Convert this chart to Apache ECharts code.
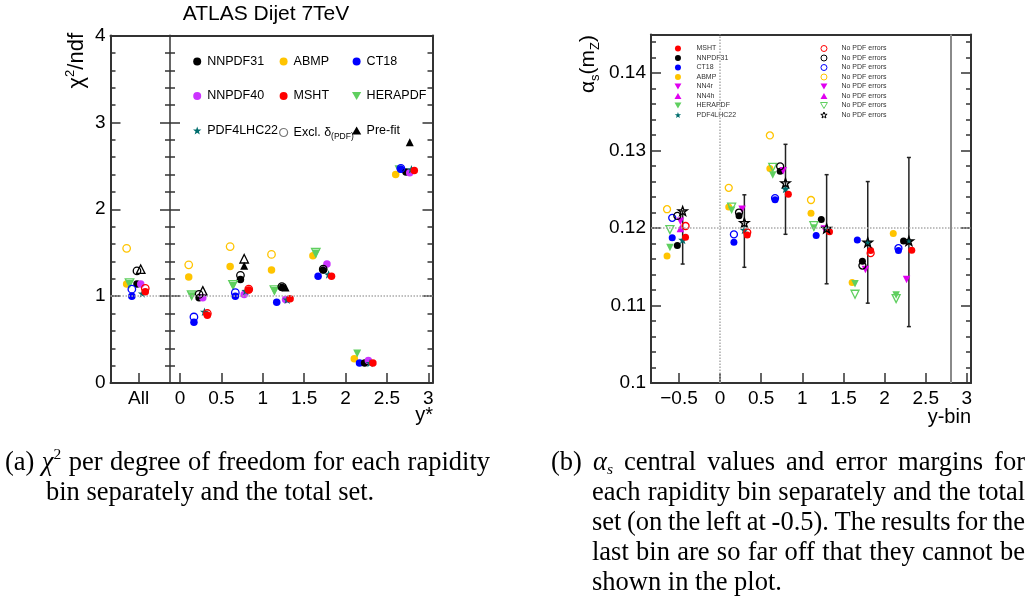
<!DOCTYPE html>
<html>
<head>
<meta charset="utf-8">
<title>ATLAS Dijet 7TeV – chi2/ndf and alpha_s per rapidity bin</title>
<script src="https://cdn.jsdelivr.net/npm/echarts@6/dist/echarts.min.js"></script>
<style>
  html, body { margin: 0; padding: 0; background: #ffffff; }
  #chart { width: 1029px; height: 608px; }
</style>
</head>
<body>
<div id="chart"></div>
<script>
// ---------------- data: chi2/ndf per rapidity bin (first entry = all bins combined) ----------------
const chiBins = [-0.5, 0.25, 0.75, 1.25, 1.75, 2.25, 2.75];
const chiTicks = [-0.5, 0, 0.5, 1, 1.5, 2, 2.5, 3];
const chiRef = 1;

const chiNNPDF31   = [1.14, 0.98, 1.19, 1.10, 1.30, 0.23, 2.43];
const chiABMP      = [1.14, 1.22, 1.34, 1.30, 1.465, 0.28, 2.40];
const chiCT18      = [1.00, 0.70, 1.00, 0.93, 1.23, 0.23, 2.46];
const chiNNPDF40   = [1.14, 0.98, 1.02, 0.96, 1.37, 0.26, 2.42];
const chiMSHT      = [1.05, 0.78, 1.07, 0.97, 1.23, 0.23, 2.445];
const chiHERAPDF   = [1.14, 1.00, 1.12, 1.06, 1.49, 0.34, 2.46];
const chiPDF4LHC22 = [1.03, 0.82, 1.06, 0.96, 1.25, 0.23, 2.46];
const chiPrefit    = [null, null, 1.35, 1.10, null, null, 2.77];

// chi2/ndf with the PDF uncertainty removed from the covariance
const exclNNPDF31  = [1.29, 1.02, 1.24, 1.11, 1.31, null, null];
const exclABMP     = [1.55, 1.36, 1.57, 1.48, null, null, null];
const exclCT18     = [1.08, 0.76, 1.04, null, null, null, 2.47];
const exclMSHT     = [1.09, 0.80, 1.08, null, null, null, null];
const exclHERAPDF  = [1.15, 1.01, 1.13, 1.07, 1.50, null, null];
const exclPrefit   = [1.31, 1.06, 1.43, null, null, null, null];

// ---------------- data: fitted alpha_s(mZ) per rapidity bin (first entry = total set) ----------------
const asBins = [-0.5, 0.25, 0.75, 1.25, 1.75, 2.25];
const asTicks = [-0.5, 0, 0.5, 1, 1.5, 2, 2.5, 3];
const asYTicks = [0.1, 0.11, 0.12, 0.13, 0.14];
const asRef = 0.118;
const asLastBinEdge = 2.8;

const asMSHT      = [0.11881, 0.11912, 0.12436, 0.11954, 0.11711, 0.11715];
const asNNPDF31   = [0.11775, 0.12158, 0.12733, 0.12111, 0.11571, 0.11835];
const asCT18      = [0.11877, 0.11817, 0.12366, 0.11903, 0.11848, 0.11711];
const asABMP      = [0.11639, 0.12273, 0.12771, 0.12193, 0.11299, 0.11932];
const asNN4r      = [0.12090, 0.12244, 0.12742, 0.11987, 0.11465, 0.11337];
const asNN4h      = [0.11996, null, null, null, null, null];
const asHERAPDF   = [0.11750, 0.12231, 0.12686, 0.12000, 0.11281, 0.11137];
const asPDF4LHC22 = [0.11848, 0.11976, 0.12507, 0.11996, 0.11817, 0.11835];
const asErrLow    = [0.11536, 0.11494, 0.11920, 0.11281, 0.11031, 0.10728];
const asErrHigh   = [0.12222, 0.12430, 0.13082, 0.12690, 0.12601, 0.12912];

// alpha_s fitted without PDF errors
const nopdfMSHT      = [0.12027, 0.11945, null, null, 0.11677, null];
const nopdfNNPDF31   = [0.12158, 0.12201, 0.12797, null, 0.11516, null];
const nopdfCT18      = [0.12133, 0.11919, 0.12388, null, null, 0.11741];
const nopdfABMP      = [0.12244, 0.12520, 0.13197, 0.12363, null, null];
const nopdfNN4r      = [null, null, null, null, null, null];
const nopdfNN4h      = [null, null, null, null, null, null];
const nopdfHERAPDF   = [0.11980, 0.12270, 0.12784, 0.12031, 0.11146, 0.11089];
const nopdfPDF4LHC22 = [0.12222, 0.12070, 0.12584, 0.11996, 0.11817, 0.11835];

// ---------------- caption text ----------------
const captionA = [
  '(a) {i|χ}{p|2} per degree of freedom for each rapidity',
  'bin separately and the total set.'
];
const captionB = [
  '(b) {i|α}{s|s} central values and error margins for',
  'each rapidity bin separately and the total',
  'set (on the left at -0.5). The results for the',
  'last bin are so far off that they cannot be',
  'shown in the plot.'
];

// ---------------- styling ----------------
const SANS = '"Liberation Sans", Arial, Helvetica, sans-serif';
const SERIF = '"Liberation Serif", "Times New Roman", serif';
const COLOR = {
  NNPDF31: '#000000', ABMP: '#ffc400', CT18: '#0000ff', NNPDF40: '#cc33ff',
  MSHT: '#ff0000', HERAPDF: '#5fcf5f', PDF4LHC22: '#006d6d', NN4: '#e000f0', PREFIT: '#000000'
};
// horizontal shift of each PDF inside a bin so the markers do not sit on top of each other
const SHIFT = {
  ABMP: -0.145, HERAPDF: -0.11, CT18: -0.082, NNPDF31: -0.02, PREFIT: 0.025,
  NNPDF40: 0.025, NN4: 0.017, PDF4LHC22: 0.045, MSHT: 0.08
};
const STAR = 'path://M0,-10L2.35,-3.24L9.51,-3.09L3.8,1.24L5.88,8.09L0,4L-5.88,8.09L-3.8,1.24L-9.51,-3.09L-2.35,-3.24Z';
const TRI_DOWN = 'path://M0,0L10,0L5,8.66Z';
const TRI_UP = 'path://M5,0L10,8.66L0,8.66Z';
const X_MIN = -0.84, X_MAX = 3.05;
const FRAME = { color: '#333333', width: 2 };
const TICK = { color: '#333333', width: 1.5 };

function points(bins, values, shift) {
  const out = [];
  values.forEach((v, i) => { if (v !== null) out.push([bins[i] + shift, v]); });
  return out;
}

function scatter(name, grid, data, symbol, size, color, filled, rotate, z) {
  return {
    type: 'scatter', name: name,
    xAxisIndex: grid === 0 ? 0 : 2,
    yAxisIndex: grid === 0 ? 0 : 4,
    data: data,
    symbol: symbol, symbolSize: size, symbolRotate: rotate || 0, symbolKeepAspect: true,
    itemStyle: filled
      ? { color: color, opacity: 1 }
      : { color: 'rgba(0,0,0,0)', borderColor: color, borderWidth: 1.3, opacity: 1 },
    silent: true, z: z || 3,
    emphasis: { disabled: true }
  };
}

// ---------------- series: left panel ----------------
const series = [];
series.push(Object.assign(
  scatter('ABMP', 0, points(chiBins, chiABMP, SHIFT.ABMP), 'circle', 7.5, COLOR.ABMP, true),
  { markLine: { silent: true, symbol: 'none', label: { show: false },
      lineStyle: { type: 'dotted', color: '#aaaaaa', width: 1.5 }, data: [{ yAxis: chiRef }] } }));
series.push(scatter('HERAPDF', 0, points(chiBins, chiHERAPDF, SHIFT.HERAPDF), 'triangle', 8, COLOR.HERAPDF, true, 180));
series.push(scatter('CT18', 0, points(chiBins, chiCT18, SHIFT.CT18), 'circle', 7.5, COLOR.CT18, true));
series.push(scatter('NNPDF31', 0, points(chiBins, chiNNPDF31, SHIFT.NNPDF31), 'circle', 7.5, COLOR.NNPDF31, true));
series.push(scatter('Pre-fit', 0, points(chiBins, chiPrefit, SHIFT.PREFIT), 'triangle', 8, COLOR.PREFIT, true));
series.push(scatter('NNPDF40', 0, points(chiBins, chiNNPDF40, SHIFT.NNPDF40), 'circle', 7.5, COLOR.NNPDF40, true));
series.push(scatter('PDF4LHC22', 0, points(chiBins, chiPDF4LHC22, SHIFT.PDF4LHC22), STAR, 9, COLOR.PDF4LHC22, true));
series.push(scatter('MSHT', 0, points(chiBins, chiMSHT, SHIFT.MSHT), 'circle', 7.5, COLOR.MSHT, true));

// open markers: fit quality without PDF uncertainties, one colour per PDF
const exclData = [];
[
  [exclABMP, 'ABMP', 'circle', 0],
  [exclHERAPDF, 'HERAPDF', 'triangle', 180],
  [exclCT18, 'CT18', 'circle', 0],
  [exclNNPDF31, 'NNPDF31', 'circle', 0],
  [exclPrefit, 'PREFIT', 'triangle', 0],
  [exclMSHT, 'MSHT', 'circle', 0]
].forEach(([vals, key, sym, rot]) => {
  points(chiBins, vals, SHIFT[key]).forEach(p => {
    exclData.push({ value: p, symbol: sym, symbolRotate: rot, symbolSize: sym === 'circle' ? 7.5 : 8.5,
      itemStyle: { borderColor: COLOR[key] } });
  });
});
series.push(scatter('Excl. δ(PDF)', 0, exclData, 'circle', 7.5, '#777777', false, 0, 4));

// ---------------- series: right panel ----------------
const errData = asBins.map((b, i) => [b + SHIFT.PDF4LHC22, asErrLow[i], asErrHigh[i]]);
series.push({
  type: 'custom', name: 'PDF4LHC22 uncertainty', xAxisIndex: 2, yAxisIndex: 4,
  data: errData, silent: true, z: 2,
  encode: { x: 0, y: [1, 2] },
  renderItem: function (params, api) {
    const x = api.value(0);
    const lo = api.coord([x, api.value(1)]);
    const hi = api.coord([x, api.value(2)]);
    const style = { stroke: '#222222', lineWidth: 1.5 };
    const cap = 2;
    return {
      type: 'group',
      children: [
        { type: 'line', shape: { x1: lo[0], y1: lo[1], x2: hi[0], y2: hi[1] }, style: style },
        { type: 'line', shape: { x1: lo[0] - cap, y1: lo[1], x2: lo[0] + cap, y2: lo[1] }, style: style },
        { type: 'line', shape: { x1: hi[0] - cap, y1: hi[1], x2: hi[0] + cap, y2: hi[1] }, style: style }
      ]
    };
  },
  markLine: {
    silent: true, symbol: 'none', label: { show: false },
    lineStyle: { type: 'dotted', color: '#aaaaaa', width: 1.5 },
    data: [
      { xAxis: 0 },
      { yAxis: asRef },
      { xAxis: asLastBinEdge, lineStyle: { type: 'solid', color: '#8a8a8a', width: 2 } }
    ]
  }
});

const NOPDF = ' – no PDF errors';
series.push(scatter('ABMP', 1, points(asBins, asABMP, SHIFT.ABMP), 'circle', 7, COLOR.ABMP, true));
series.push(scatter('HERAPDF', 1, points(asBins, asHERAPDF, SHIFT.HERAPDF), 'triangle', 7.5, COLOR.HERAPDF, true, 180));
series.push(scatter('CT18', 1, points(asBins, asCT18, SHIFT.CT18), 'circle', 7, COLOR.CT18, true));
series.push(scatter('NNPDF31', 1, points(asBins, asNNPDF31, SHIFT.NNPDF31), 'circle', 7, COLOR.NNPDF31, true));
series.push(scatter('NN4r', 1, points(asBins, asNN4r, SHIFT.NN4), 'triangle', 7.5, COLOR.NN4, true, 180));
series.push(scatter('NN4h', 1, points(asBins, asNN4h, SHIFT.NN4), 'triangle', 7.5, COLOR.NN4, true));
series.push(scatter('PDF4LHC22', 1, points(asBins, asPDF4LHC22, SHIFT.PDF4LHC22), STAR, 9, COLOR.PDF4LHC22, true));
series.push(scatter('MSHT', 1, points(asBins, asMSHT, SHIFT.MSHT), 'circle', 7, COLOR.MSHT, true));

series.push(scatter('ABMP' + NOPDF, 1, points(asBins, nopdfABMP, SHIFT.ABMP), 'circle', 7, COLOR.ABMP, false, 0, 4));
series.push(scatter('HERAPDF' + NOPDF, 1, points(asBins, nopdfHERAPDF, SHIFT.HERAPDF), 'triangle', 8, COLOR.HERAPDF, false, 180, 4));
series.push(scatter('CT18' + NOPDF, 1, points(asBins, nopdfCT18, SHIFT.CT18), 'circle', 7, COLOR.CT18, false, 0, 4));
series.push(scatter('NNPDF31' + NOPDF, 1, points(asBins, nopdfNNPDF31, SHIFT.NNPDF31), 'circle', 7, COLOR.NNPDF31, false, 0, 4));
series.push(scatter('NN4r' + NOPDF, 1, points(asBins, nopdfNN4r, SHIFT.NN4), 'triangle', 7.5, COLOR.NN4, true, 180, 4));
series.push(scatter('NN4h' + NOPDF, 1, points(asBins, nopdfNN4h, SHIFT.NN4), 'triangle', 7.5, COLOR.NN4, true, 0, 4));
series.push(scatter('PDF4LHC22' + NOPDF, 1, points(asBins, nopdfPDF4LHC22, SHIFT.PDF4LHC22), STAR, 9.5, '#000000', false, 0, 4));
series.push(scatter('MSHT' + NOPDF, 1, points(asBins, nopdfMSHT, SHIFT.MSHT), 'circle', 7, COLOR.MSHT, false, 0, 4));

// ---------------- axes ----------------
function minorValues(lo, hi, step, majorStep) {
  const out = [];
  const n = Math.round((hi - lo) / step);
  for (let i = 0; i <= n; i++) {
    const v = +(lo + i * step).toFixed(6);
    const r = v / majorStep;
    if (Math.abs(r - Math.round(r)) > 1e-6) out.push(v);
  }
  return out;
}
const asMinor = minorValues(0.1, 0.145, 0.002, 0.01);
const labelFont = { fontFamily: SANS, fontSize: 19, color: '#000000' };

const xBase = { type: 'value', min: X_MIN, max: X_MAX, splitLine: { show: false } };
const xAxis = [
  Object.assign({}, xBase, { gridIndex: 0, position: 'bottom',
    axisLine: { show: true, onZero: false, lineStyle: FRAME },
    axisTick: { show: true, inside: true, length: 10, lineStyle: TICK, customValues: chiTicks },
    axisLabel: Object.assign({ show: true, margin: 6, customValues: chiTicks,
      formatter: v => (Math.abs(v + 0.5) < 1e-9 ? 'All' : String(v)) }, labelFont) }),
  Object.assign({}, xBase, { gridIndex: 0, position: 'top',
    axisLine: { show: true, onZero: false, lineStyle: FRAME }, axisTick: { show: false },
    axisLabel: { show: false } }),
  Object.assign({}, xBase, { gridIndex: 1, position: 'bottom',
    axisLine: { show: true, onZero: false, lineStyle: FRAME },
    axisTick: { show: true, inside: true, length: 10, lineStyle: TICK, customValues: asTicks },
    axisLabel: Object.assign({ show: true, margin: 6, customValues: asTicks,
      formatter: v => (v < 0 ? '\u2212' + Math.abs(v) : String(v)) }, labelFont) }),
  Object.assign({}, xBase, { gridIndex: 1, position: 'top',
    axisLine: { show: true, onZero: false, lineStyle: FRAME }, axisTick: { show: false },
    axisLabel: { show: false } })
];

const chiAxisBase = { gridIndex: 0, type: 'value', min: 0, max: 4, interval: 1, splitLine: { show: false } };
const asAxisBase = { gridIndex: 1, type: 'value', min: 0.1, max: 0.145, splitLine: { show: false } };
const yAxis = [
  // 0: left frame with labels
  Object.assign({}, chiAxisBase, { position: 'left',
    axisLine: { show: true, onZero: false, lineStyle: FRAME },
    axisTick: { show: true, inside: true, length: 10, lineStyle: TICK },
    minorTick: { show: true, splitNumber: 5, length: 5, lineStyle: TICK },
    axisLabel: Object.assign({ show: true, margin: 5 }, labelFont) }),
  // 1, 2: axis separating the combined set from the individual bins (ticks on both sides)
  Object.assign({}, chiAxisBase, { position: 'left', offset: -59.5,
    axisLine: { show: true, onZero: false, lineStyle: { color: '#666666', width: 2 } },
    axisTick: { show: true, inside: true, length: 10, lineStyle: TICK },
    minorTick: { show: true, splitNumber: 5, length: 5, lineStyle: TICK },
    axisLabel: { show: false } }),
  Object.assign({}, chiAxisBase, { position: 'left', offset: -59.5,
    axisLine: { show: false, onZero: false },
    axisTick: { show: true, inside: false, length: 10, lineStyle: TICK },
    minorTick: { show: true, splitNumber: 5, length: 5, lineStyle: TICK },
    axisLabel: { show: false } }),
  // 3: right frame
  Object.assign({}, chiAxisBase, { position: 'right',
    axisLine: { show: true, onZero: false, lineStyle: FRAME },
    axisTick: { show: true, inside: true, length: 10, lineStyle: TICK },
    minorTick: { show: true, splitNumber: 5, length: 5, lineStyle: TICK },
    axisLabel: { show: false } }),
  // 4: alpha_s axis with labels
  Object.assign({}, asAxisBase, { interval: 0.01, position: 'left',
    axisLine: { show: true, onZero: false, lineStyle: FRAME },
    axisTick: { show: true, inside: true, length: 10, lineStyle: TICK, customValues: asYTicks },
    axisLabel: Object.assign({ show: true, margin: 5, customValues: asYTicks,
      formatter: v => String(+v.toFixed(3)) }, labelFont) }),
  // 5: alpha_s minor ticks
  Object.assign({}, asAxisBase, { position: 'left',
    axisLine: { show: false, onZero: false },
    axisTick: { show: true, inside: true, length: 5, lineStyle: TICK, customValues: asMinor },
    axisLabel: { show: false } }),
  // 6, 7: right frame of the alpha_s panel
  Object.assign({}, asAxisBase, { position: 'right',
    axisLine: { show: true, onZero: false, lineStyle: FRAME },
    axisTick: { show: true, inside: true, length: 10, lineStyle: TICK, customValues: asYTicks },
    axisLabel: { show: false } }),
  Object.assign({}, asAxisBase, { position: 'right',
    axisLine: { show: false, onZero: false },
    axisTick: { show: true, inside: true, length: 5, lineStyle: TICK, customValues: asMinor },
    axisLabel: { show: false } })
];

// ---------------- legends ----------------
function chiLegend(left, names) {
  return {
    orient: 'vertical', left: left, top: 55, padding: 0, itemWidth: 10, itemHeight: 8, itemGap: 21.5,
    selectedMode: false,
    textStyle: { fontFamily: SANS, fontSize: 12.5, color: '#000000',
      rich: { n: { fontFamily: SANS, fontSize: 12.5, color: '#000', lineHeight: 13, verticalAlign: 'top' },
              s: { fontFamily: SANS, fontSize: 8.5, color: '#000', lineHeight: 8.5, padding: [8, 0, 0, 0] } } },
    formatter: name => (name.indexOf('Excl') === 0 ? '{n|Excl. δ}{s|(PDF)}' : name),
    data: names
  };
}
function asLegend(left, textPad, names) {
  return {
    orient: 'vertical', left: left, top: 45, padding: 0, itemWidth: 7, itemHeight: 6, itemGap: 2.5,
    selectedMode: false,
    textStyle: { fontFamily: SANS, fontSize: 7, color: '#333333',
      rich: { a: { fontFamily: SANS, fontSize: 7, color: '#333333', padding: [0, 0, 0, textPad] } } },
    formatter: name => '{a|' + (name.indexOf(NOPDF) > 0 ? 'No PDF errors' : name) + '}',
    data: names
  };
}
const asLegendIcons = {
  NN4r: TRI_DOWN, NN4h: TRI_UP, HERAPDF: TRI_DOWN, PDF4LHC22: STAR
};
const asNames = ['MSHT', 'NNPDF31', 'CT18', 'ABMP', 'NN4r', 'NN4h', 'HERAPDF', 'PDF4LHC22'];
const legend = [
  chiLegend(193, ['NNPDF31', 'NNPDF40', 'PDF4LHC22']),
  chiLegend(279, ['ABMP', 'MSHT', { name: 'Excl. δ(PDF)', itemStyle: { borderWidth: 1.2 } }]),
  chiLegend(352, ['CT18', { name: 'HERAPDF', icon: TRI_DOWN }, { name: 'Pre-fit', icon: TRI_UP }]),
  asLegend(674.5, 10, asNames.map(n => (asLegendIcons[n] ? { name: n, icon: asLegendIcons[n] } : n))),
  asLegend(820, 9, asNames.map(n => {
    const item = { name: n + NOPDF, itemStyle: { borderWidth: 1 } };
    if (asLegendIcons[n]) item.icon = asLegendIcons[n];
    return item;
  }))
];

// ---------------- titles ----------------
const graphic = [
  { type: 'text', x: 266, y: 14, silent: true,
    style: { text: 'ATLAS Dijet 7TeV', font: '21px ' + SANS, fill: '#000', align: 'center', verticalAlign: 'middle' } },
  { type: 'text', x: 76, y: 33, rotation: Math.PI / 2, silent: true,
    style: { text: '{t|χ}{p|2}{t|/ndf}', align: 'right', verticalAlign: 'middle',
      rich: { t: { font: '22px ' + SANS, fill: '#000', lineHeight: 24, verticalAlign: 'bottom' },
              p: { font: '13px ' + SANS, fill: '#000', lineHeight: 13, verticalAlign: 'top' } } } },
  { type: 'text', x: 433, y: 415, silent: true,
    style: { text: 'y*', font: '20px ' + SANS, fill: '#000', align: 'right', verticalAlign: 'middle' } },
  { type: 'text', x: 589, y: 35, rotation: Math.PI / 2, silent: true,
    style: { text: '{t|α}{s|s}{t|(m}{s|Z}{t|)}', align: 'right', verticalAlign: 'middle',
      rich: { t: { font: '21px ' + SANS, fill: '#000', lineHeight: 22, verticalAlign: 'top' },
              s: { font: '13px ' + SANS, fill: '#000', lineHeight: 13, padding: [12, 0, 0, 0] } } } },
  { type: 'text', x: 971, y: 417, silent: true,
    style: { text: 'y-bin', font: '20px ' + SANS, fill: '#000', align: 'right', verticalAlign: 'middle' } }
];

// ---------------- captions: justified lines, one text element per word ----------------
const CAP_SIZE = 26.5;
const capFonts = {
  t: CAP_SIZE + 'px ' + SERIF,
  i: 'italic ' + CAP_SIZE + 'px ' + SERIF,
  p: '15.5px ' + SERIF,
  s: 'italic 15.5px ' + SERIF
};
const capRich = {
  t: { font: capFonts.t, fill: '#000', lineHeight: 30, verticalAlign: 'bottom' },
  i: { font: capFonts.i, fill: '#000', lineHeight: 30, verticalAlign: 'bottom' },
  p: { font: capFonts.p, fill: '#000', lineHeight: 14, verticalAlign: 'top' },
  s: { font: capFonts.s, fill: '#000', lineHeight: 15, padding: [15, 0, 0, 0] }
};
const measureCtx = document.createElement('canvas').getContext('2d');
function fragments(word) {
  const out = [];
  const re = /\{(\w)\|([^}]*)\}/g;
  let last = 0, m;
  while ((m = re.exec(word)) !== null) {
    if (m.index > last) out.push(['t', word.slice(last, m.index)]);
    out.push([m[1], m[2]]);
    last = re.lastIndex;
  }
  if (last < word.length) out.push(['t', word.slice(last)]);
  return out;
}
function wordWidth(frags) {
  return frags.reduce((w, [k, txt]) => { measureCtx.font = capFonts[k]; return w + measureCtx.measureText(txt).width; }, 0);
}
function placeLine(text, x0, right, y, justify) {
  const words = text.split(' ').map(fragments);
  const widths = words.map(wordWidth);
  measureCtx.font = capFonts.t;
  let gap = measureCtx.measureText(' ').width;
  if (justify && words.length > 1) {
    gap = (right - x0 - widths.reduce((a, b) => a + b, 0)) / (words.length - 1);
  }
  let x = x0;
  words.forEach((frags, i) => {
    graphic.push({ type: 'text', x: x, y: y, silent: true,
      style: { text: frags.map(([k, t]) => '{' + k + '|' + t + '}').join(''), rich: capRich,
               align: 'left', verticalAlign: 'middle' } });
    x += widths[i] + gap;
  });
}
placeLine(captionA[0], 5, 490, 462, true);
placeLine(captionA[1], 46, 490, 492, false);
captionB.forEach((line, i) => {
  placeLine(line, i === 0 ? 551 : 592, 1025, 462 + 30 * i, i < captionB.length - 1);
});

const option = {
  backgroundColor: '#ffffff',
  animation: false,
  grid: [
    { left: 110.5, top: 35.5, width: 322, height: 347.5, outerBoundsMode: 'none', containLabel: false },
    { left: 651, top: 34.5, width: 320, height: 348.5, outerBoundsMode: 'none', containLabel: false }
  ],
  xAxis: xAxis,
  yAxis: yAxis,
  legend: legend,
  graphic: graphic,
  series: series
};

const chart = echarts.init(document.getElementById('chart'));
chart.setOption(option);
</script>
</body>
</html>
